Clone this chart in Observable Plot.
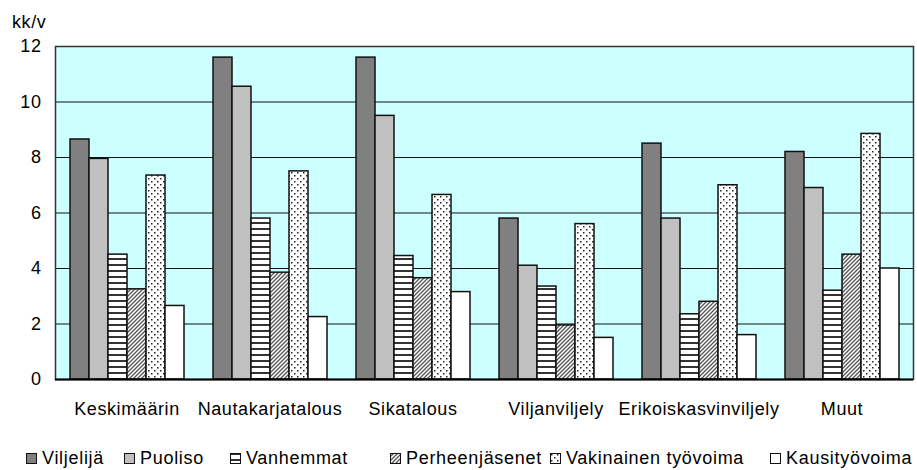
<!DOCTYPE html>
<html>
<head>
<meta charset="utf-8">
<script src="https://cdn.jsdelivr.net/npm/d3@7"></script>
<script src="https://cdn.jsdelivr.net/npm/@observablehq/plot@0.6"></script>
<style>
  html, body { margin: 0; padding: 0; background: #fff; }
  #wrap { position: relative; width: 917px; height: 470px; font-family: "Liberation Sans", Arial, sans-serif; color: #000; }
  #ylab { position: absolute; left: 12px; top: 13px; font-size: 18px; line-height: 18px; letter-spacing: 0.6px; }
  .item { position: absolute; top: 449px; display: flex; align-items: center; font-size: 18px; line-height: 18px; white-space: nowrap; letter-spacing: 0.7px; }
  .item svg { margin-right: 5px; }
</style>
</head>
<body>
<div id="wrap">
  <div id="chart"></div>
  <div id="ylab">kk/v</div>
  <div id="legend"></div>
</div>
<script>
const categories = ["Keskimäärin", "Nautakarjatalous", "Sikatalous", "Viljanviljely", "Erikoiskasvinviljely", "Muut"];
const series = ["Viljelijä", "Puoliso", "Vanhemmat", "Perheenjäsenet", "Vakinainen työvoima", "Kausityövoima"];
const viljelija      = [8.65, 11.6, 11.6, 5.8, 8.5, 8.2];
const puoliso        = [7.95, 10.55, 9.5, 4.1, 5.8, 6.9];
const vanhemmat      = [4.5, 5.8, 4.45, 3.35, 2.35, 3.2];
const perheenjasenet = [3.25, 3.85, 3.65, 1.95, 2.8, 4.5];
const vakinainen     = [7.35, 7.5, 6.65, 5.6, 7.0, 8.85];
const kausi          = [2.65, 2.25, 3.15, 1.5, 1.6, 4.0];
const yTicks = [0, 2, 4, 6, 8, 10, 12];
const gridTicks = [2, 4, 6, 8, 10];

const seriesValues = [viljelija, puoliso, vanhemmat, perheenjasenet, vakinainen, kausi];
const fills = ["#808080", "#c0c0c0", "url(#pStripes)", "url(#pDiag)", "url(#pDots)", "#ffffff"];

const data = [];
categories.forEach((c, i) => series.forEach((s, j) => data.push({cat: c, series: s, value: seriesValues[j][i]})));

const chart = Plot.plot({
  width: 917,
  height: 440,
  marginLeft: 55,
  marginRight: 4,
  marginTop: 46,
  marginBottom: 61,
  style: {fontSize: "18px", fontFamily: "'Liberation Sans', Arial, sans-serif", color: "#000", background: "transparent", letterSpacing: "0.6px"},
  fx: {domain: categories, padding: 0, axis: "bottom", tickSize: 0, tickPadding: 23, label: null},
  x: {domain: series, axis: null, paddingInner: 0, paddingOuter: 0.73},
  y: {domain: [0, 12], ticks: yTicks, tickSize: 0, tickPadding: 14, label: null, tickFormat: d => String(d)},
  color: {domain: series, range: fills},
  marks: [
    Plot.frame({fill: "#ccffff", stroke: null, facet: "super"}),
    Plot.ruleY(gridTicks, {stroke: "#111", strokeWidth: 1.2}),
    Plot.barY(data, {fx: "cat", x: "series", y: "value", fill: "series", stroke: "#111", strokeWidth: 1.5}),
    Plot.frame({stroke: "#333", strokeWidth: 1.5, facet: "super"}),
    Plot.ruleY([0], {stroke: "#000", strokeWidth: 2})
  ]
});

// pattern definitions
const ns = "http://www.w3.org/2000/svg";
const defs = document.createElementNS(ns, "defs");
defs.innerHTML = `
  <pattern id="pStripes" patternUnits="userSpaceOnUse" width="8" height="6">
    <rect width="8" height="6" fill="#fff"/>
    <rect y="0" width="8" height="2" fill="#333"/>
  </pattern>
  <pattern id="pDiag" patternUnits="userSpaceOnUse" width="4" height="4">
    <rect width="4" height="4" fill="#fff"/>
    <path d="M-1,1 l2,-2 M0,4 l4,-4 M3,5 l2,-2" stroke="#555" stroke-width="1.3"/>
  </pattern>
  <pattern id="pDots" patternUnits="userSpaceOnUse" width="6" height="6">
    <rect width="6" height="6" fill="#fff"/>
    <rect x="1" y="1" width="1.5" height="1.5" fill="#222"/>
    <rect x="4" y="4" width="1.5" height="1.5" fill="#222"/>
  </pattern>`;
chart.insertBefore(defs, chart.firstChild);
document.getElementById("chart").appendChild(chart);

// legend
const lefts = [26, 124, 230, 390, 550, 770];
const legend = document.getElementById("legend");
series.forEach((s, j) => {
  const item = document.createElement("div");
  item.className = "item";
  item.style.left = lefts[j] + "px";
  item.innerHTML = `<svg width="11" height="11"><rect x="0.5" y="0.5" width="10" height="10" fill="${fills[j]}" stroke="#111" stroke-width="1"/></svg><span>${s}</span>`;
  legend.appendChild(item);
});
</script>
</body>
</html>
